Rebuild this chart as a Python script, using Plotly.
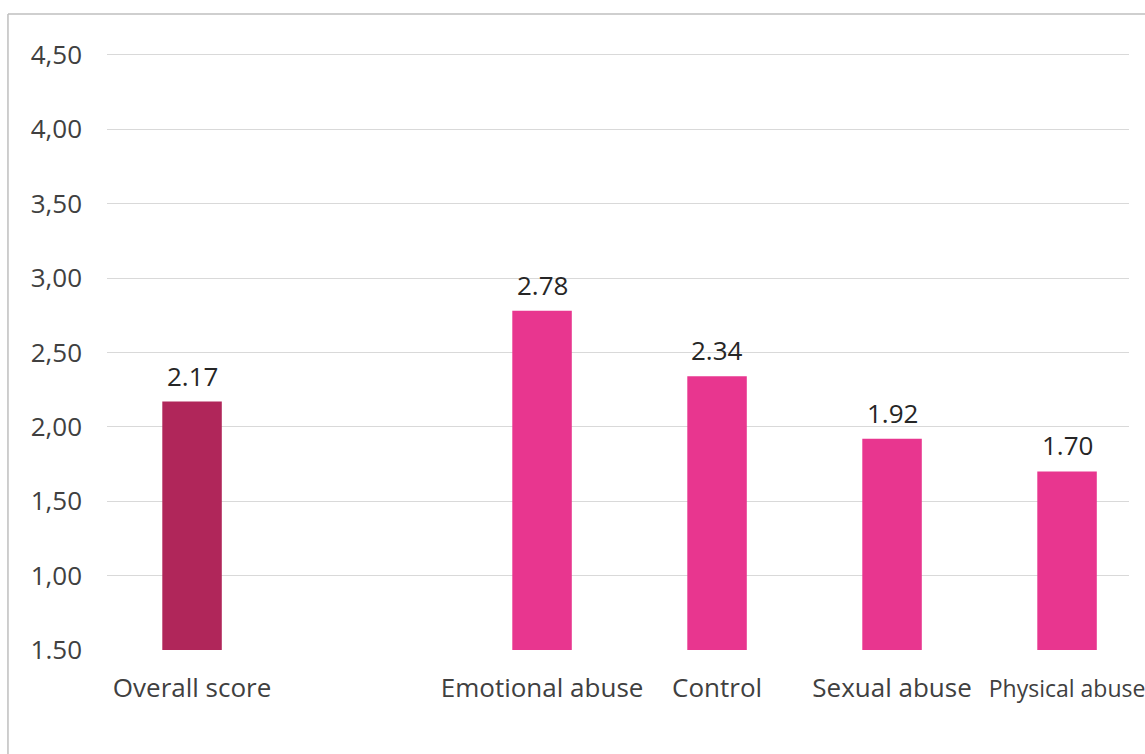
import plotly.graph_objects as go

# Mean scores per dimension
categories = ["Overall score", " ", "Emotional abuse", "Control", "Sexual abuse", "Physical abuse"]
scores = [2.17, None, 2.78, 2.34, 1.92, 1.70]
score_labels = ["2.17", "", "2.78", "2.34", "1.92", "1.70"]
bar_colors = ["#B0265A", "#E8368F", "#E8368F", "#E8368F", "#E8368F", "#E8368F"]

# Y-axis ticks
tick_values = [0.5, 1.0, 1.5, 2.0, 2.5, 3.0, 3.5, 4.0, 4.5]
tick_labels = ["1.50", "1,00", "1,50", "2,00", "2,50", "3,00", "3,50", "4,00", "4,50"]

FONT = "Open Sans"
BASE = 0.5

fig = go.Figure(
    go.Bar(
        x=categories,
        y=[None if s is None else s - BASE for s in scores],
        base=BASE,
        marker=dict(color=bar_colors, line=dict(width=0)),
        width=0.34,
        hoverinfo="skip",
    )
)

# value labels above each bar
for cat, val, lab in zip(categories, scores, score_labels):
    if val is None:
        continue
    fig.add_annotation(
        x=cat, y=val, text=lab, showarrow=False,
        yanchor="bottom", yshift=6,
        font=dict(family=FONT, size=26, color="#262626"),
    )

# category tick text; the last label is set slightly tighter
cat_text = [c if c != "Physical abuse" else '<span style="font-size:23px">Physical abuse</span>'
            for c in categories]

fig.update_layout(
    width=1145,
    height=754,
    margin=dict(l=107, r=16, t=40, b=104, autoexpand=False),
    paper_bgcolor="white",
    plot_bgcolor="white",
    showlegend=False,
    font=dict(family=FONT, color="#404040"),
    xaxis=dict(
        type="category",
        range=[-0.486, 5.354],
        tickmode="array",
        tickvals=categories,
        ticktext=cat_text,
        automargin=False,
        showgrid=False,
        showline=False,
        zeroline=False,
        ticks="",
        tickfont=dict(family=FONT, size=26, color="#404040"),
        ticklabelstandoff=20,
    ),
    yaxis=dict(
        range=[0.5, 4.6],
        tickmode="array",
        tickvals=tick_values,
        ticktext=tick_labels,
        automargin=False,
        showgrid=True,
        gridcolor="#d9d9d9",
        gridwidth=1,
        zeroline=False,
        showline=False,
        ticks="",
        tickfont=dict(family=FONT, size=26, color="#404040"),
        ticklabelstandoff=24,
    ),
    shapes=[
        # outer frame: top and left edges
        dict(type="line", xref="paper", yref="paper",
             x0=-0.0969, x1=1.02, y0=1.0426, y1=1.0426,
             line=dict(color="#bfbfbf", width=1.5)),
        dict(type="line", xref="paper", yref="paper",
             x0=-0.0969, x1=-0.0969, y0=1.0426, y1=-0.2,
             line=dict(color="#bfbfbf", width=1.5)),
    ],
)

fig.write_html("out.html")
